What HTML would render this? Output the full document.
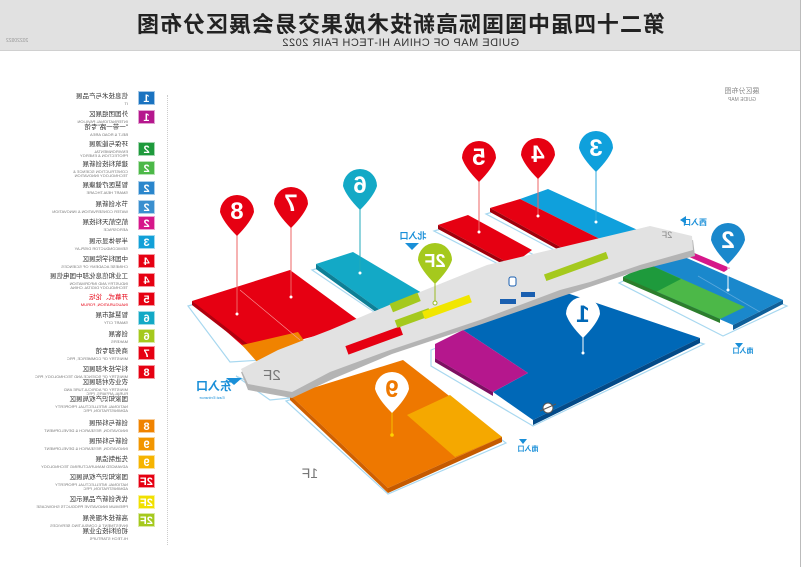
<!DOCTYPE html>
<html><head><meta charset="utf-8"><style>
*{margin:0;padding:0;box-sizing:border-box}
body{width:801px;height:567px;background:#fff;position:relative;overflow:hidden;font-family:"Liberation Sans","Noto Sans CJK SC",sans-serif}
.m{transform:scaleX(-1)}
#hdr{position:absolute;left:0;top:0;width:801px;height:51px;background:#e1e1e1;border-bottom:1px solid #d0d0d0}
#t1{position:absolute;left:0;width:801px;top:7px;text-align:center;font-size:22px;font-weight:bold;color:#222;letter-spacing:1px}
#t2{position:absolute;left:0;width:801px;top:37px;text-align:center;font-size:11px;color:#333;letter-spacing:.5px}
.lg{position:absolute;left:0;width:128px;text-align:left;line-height:1}
.lg b{display:block;font-size:6.5px;color:#333;font-weight:normal}
.lg i{display:block;font-style:normal;font-size:4px;color:#777;margin-top:1px}
.bd{position:absolute;left:138px;width:17px;height:14px;color:#fff;font-weight:bold;font-size:11px;text-align:center;line-height:14px;border:1px solid rgba(255,255,255,.6)}
</style></head><body>
<div id="hdr"><div id="t1" class="m">第二十四届中国国际高新技术成果交易会展区分布图</div><div id="t2" class="m">GUIDE MAP OF CHINA HI-TECH FAIR 2022</div>
<div class="m" style="position:absolute;left:6px;top:38px;font-size:5px;color:#999">20220922</div></div>
<div style="position:absolute;left:800px;top:0;width:1px;height:567px;background:#bbb"></div>
<div style="position:absolute;left:167px;top:95px;height:450px;border-left:1px dotted #ccc"></div>

<div class="lg m" style="top:94px"><b>信息技术与产品展</b><i>IT</i></div><div class="bd m" style="top:91px;background:#1a73c0">1</div>
<div class="lg m" style="top:112px"><b>外国团组展区</b><i>INTERNATIONAL PAVILION</i></div><div class="bd m" style="top:110px;background:#b5178d">1</div>
<div class="lg m" style="top:125px"><b>"一带一路"专馆</b><i>BELT &amp; ROAD AREA</i></div>
<div class="lg m" style="top:142px"><b>环保与能源展</b><i>ENVIRONMENTAL<br>PROTECTION &amp; ENERGY</i></div><div class="bd m" style="top:142px;background:#1e9a3c">2</div>
<div class="lg m" style="top:162px"><b>建筑科技创新展</b><i>CONSTRUCTION SCIENCE &amp;<br>TECHNOLOGY INNOVATION</i></div><div class="bd m" style="top:161px;background:#4cb848">2</div>
<div class="lg m" style="top:183px"><b>智慧医疗健康展</b><i>SMART HEALTHCARE</i></div><div class="bd m" style="top:181px;background:#2a86cc">2</div>
<div class="lg m" style="top:202px"><b>节水创新展</b><i>WATER CONSERVATION &amp; INNOVATION</i></div><div class="bd m" style="top:200px;background:#3a8fcf">2</div>
<div class="lg m" style="top:220px"><b>航空航天科技展</b><i>AEROSPACE</i></div><div class="bd m" style="top:216px;background:#d6178a">2</div>
<div class="lg m" style="top:239px"><b>半导体显示展</b><i>SEMICONDUCTOR DISPLAY</i></div><div class="bd m" style="top:235px;background:#12a0d8">3</div>
<div class="lg m" style="top:257px"><b>中国科学院展区</b><i>CHINESE ACADEMY OF SCIENCES</i></div><div class="bd m" style="top:254px;background:#e60012">4</div>
<div class="lg m" style="top:274px"><b>工业和信息化部中国电信展</b><i>INDUSTRY AND INFORMATION<br>TECHNOLOGY DIGITAL CHINA</i></div><div class="bd m" style="top:273px;background:#e60012">4</div>
<div class="lg m" style="top:295px"><b style="color:#e60012">开幕式、论坛</b><i style="color:#e60012">INAUGURATION, FORUM</i></div><div class="bd m" style="top:292px;background:#e60012">5</div>
<div class="lg m" style="top:313px"><b>智慧城市展</b><i>SMART CITY</i></div><div class="bd m" style="top:311px;background:#13a9c6">6</div>
<div class="lg m" style="top:332px"><b>创客展</b><i>MAKERS</i></div><div class="bd m" style="top:329px;background:#a5c91d">6</div>
<div class="lg m" style="top:349px"><b>商务部专馆</b><i>MINISTRY OF COMMERCE, PRC</i></div><div class="bd m" style="top:346px;background:#e60012">7</div>
<div class="lg m" style="top:367px"><b>科学技术部展区</b><i>MINISTRY OF SCIENCE AND TECHNOLOGY, PRC</i></div><div class="bd m" style="top:365px;background:#e60012">8</div>
<div class="lg m" style="top:380px"><b>农业农村部展区</b><i>MINISTRY OF AGRICULTURE AND<br>RURAL AFFAIRS, PRC</i></div>
<div class="lg m" style="top:397px"><b>国家知识产权局展区</b><i>NATIONAL INTELLECTUAL PROPERTY<br>ADMINISTRATION, PRC</i></div>
<div class="lg m" style="top:421px"><b>创新与科研展</b><i>INNOVATION, RESEARCH &amp; DEVELOPMENT</i></div><div class="bd m" style="top:419px;background:#f08300">8</div>
<div class="lg m" style="top:439px"><b>创新与科研展</b><i>INNOVATION, RESEARCH &amp; DEVELOPMENT</i></div><div class="bd m" style="top:437px;background:#f29600">9</div>
<div class="lg m" style="top:457px"><b>先进制造展</b><i>ADVANCED MANUFACTURING TECHNOLOGY</i></div><div class="bd m" style="top:455px;background:#f6b400">9</div>
<div class="lg m" style="top:475px"><b>国家知识产权局展区</b><i>NATIONAL INTELLECTUAL PROPERTY<br>ADMINISTRATION, PRC</i></div><div class="bd m" style="top:474px;background:#e60012">2F</div>
<div class="lg m" style="top:497px"><b>优秀创新产品展示区</b><i>PREMIUM INNOVATIVE PRODUCTS SHOWCASE</i></div><div class="bd m" style="top:495px;background:#f1e000">2F</div>
<div class="lg m" style="top:516px"><b>高新技术服务展</b><i>INVESTMENT &amp; CONSULTING SERVICES</i></div><div class="bd m" style="top:513px;background:#a5c91d">2F</div>
<div class="lg m" style="top:529px"><b>初创科技企业展</b><i>HI-TECH STARTUPS</i></div>

<svg style="position:absolute;left:0;top:0" width="801" height="567" font-family="Liberation Sans, Noto Sans CJK SC, sans-serif">
<g fill="none" stroke="#a8d8f0" stroke-width="1.2">
<polygon points="188,306 290,276 360,326 262,360 230,362"/>
<polygon points="312,270 353,258 426,299 380,316"/>
<polygon points="434,231 468,221 536,256 512,271"/>
<polygon points="486,214 548,195 646,238 575,261"/>
<polygon points="619,283 673,258 787,306 723,336"/>
<polygon points="431,350 567,299 704,344 533,426 431,366"/>
<polygon points="286,401 403,366 506,443 388,494"/>
<polygon points="236,376 270,400 290,398 250,382"/>
</g>
<polygon points="192,301 290,270 358,320 330,332 300,340 262,355 245,348" fill="#e60012"/>
<polygon points="192,301 262,355 262,359 192,305" fill="#b0000e"/>
<polygon points="242,345 298,332 312,352 258,363" fill="#f08300"/>
<line x1="240" y1="290" x2="300" y2="340" stroke="#f9a0a0" stroke-width=".6"/>
<polygon points="316,264 353,252 422,293 380,310" fill="#13a9c6"/>
<polygon points="316,264 380,310 380,315 316,269" fill="#0d7f96"/>
<polygon points="438,225 468,215 532,250 512,265" fill="#e60012"/>
<polygon points="438,225 512,265 512,269 438,229" fill="#a0000c"/>
<polygon points="548,189 642,232 608,243 520,199" fill="#0fa0dc"/>
<polygon points="490,208 520,199 608,243 575,255" fill="#e60012"/>
<polygon points="490,208 575,255 575,259 490,212" fill="#a0000c"/>
<polygon points="623,277 673,252 783,300 733,325" fill="#1a88cc"/>
<polygon points="733,325 783,300 783,304 733,330" fill="#0f5f99"/>
<polygon points="623,277 648,264 745,307 720,319" fill="#4cb848"/>
<polygon points="623,277 648,264 681,279 656,292" fill="#1e9a3c"/>
<polygon points="623,277 720,319 720,323 623,281" fill="#2c7e2c"/>
<polygon points="673,250 680,247 730,268 724,272" fill="#d6178a"/>
<line x1="698" y1="276" x2="760" y2="312" stroke="#5aa8dc" stroke-width=".8"/>
<polygon points="463,330 567,293 700,338 533,420 493,392 528,373" fill="#0068b7"/>
<polygon points="533,420 700,338 700,343 533,425" fill="#034a88"/>
<polygon points="435,344 463,330 528,373 493,392 435,358" fill="#b5178d"/>
<polygon points="435,358 493,392 493,396 435,362" fill="#7d0f62"/>
<polygon points="290,395 403,360 502,437 388,488" fill="#ee7800"/>
<polygon points="407,415 450,395 502,437 455,457" fill="#f5a800"/>
<polygon points="388,488 502,437 502,442 388,493" fill="#c55a00"/>
<polygon points="290,395 388,488 388,493 290,400" fill="#d06000"/>
<polygon points="241,372 248,390 292,398 335,378 392,354 482,324 560,297 640,270 695,256 693,240" fill="#b4b4b4"/>
<polygon points="241,369 278,350 330,330 420,292 487,265 600,238 650,226 692,236 693,250 640,265 590,282 560,290 480,320 390,350 330,372 292,392 248,384" fill="#e2e2e2"/>
<text transform="translate(272,380) scale(-1,1)" font-size="15" fill="#777" text-anchor="middle">2F</text>
<text transform="translate(667,238) scale(-1,1)" font-size="9" fill="#888" text-anchor="middle">2F</text>
<rect x="345" y="336" width="58" height="9" fill="#e60012" transform="rotate(-20 374 340)"/>
<rect x="395" y="314" width="36" height="8" fill="#a5c91d" transform="rotate(-20 413 318)"/>
<rect x="422" y="303" width="50" height="8" fill="#f1e600" transform="rotate(-20 447 307)"/>
<rect x="390" y="298" width="30" height="9" fill="#a5c91d" transform="rotate(-22 405 302)"/>
<rect x="543" y="263" width="66" height="7" fill="#a5c91d" transform="rotate(-20 576 266)"/>
<rect x="500" y="299" width="16" height="5" fill="#1a5fb0"/><rect x="521" y="292" width="14" height="5" fill="#1a5fb0"/>
<rect x="509" y="277" width="7" height="9" rx="2" fill="#fff" stroke="#1a5fb0"/>
<g stroke-width="1">
<line x1="237" y1="228" x2="237" y2="314" stroke="#e66"/><line x1="291" y1="220" x2="291" y2="297" stroke="#e66"/>
<line x1="360" y1="200" x2="360" y2="273" stroke="#2ab"/><line x1="435" y1="274" x2="435" y2="303" stroke="#9b2"/>
<line x1="479" y1="172" x2="479" y2="232" stroke="#e66"/><line x1="538" y1="172" x2="538" y2="216" stroke="#e66"/>
<line x1="596" y1="165" x2="596" y2="222" stroke="#3ad"/><line x1="728" y1="255" x2="728" y2="290" stroke="#fff"/>
<line x1="583" y1="330" x2="583" y2="353" stroke="#fff"/><line x1="392" y1="405" x2="392" y2="435" stroke="#f5c000"/>
</g>
<g fill="#fff"><circle cx="237" cy="314" r="1.5"/><circle cx="291" cy="297" r="1.5"/><circle cx="360" cy="273" r="1.5"/><circle cx="479" cy="232" r="1.5"/><circle cx="538" cy="216" r="1.5"/><circle cx="596" cy="222" r="1.5"/><circle cx="728" cy="290" r="1.5"/><circle cx="583" cy="353" r="1.5"/><circle cx="392" cy="435" r="1.8" fill="#ffd200"/><circle cx="435" cy="303" r="2" fill="#fff" stroke="#9b2"/></g>
<g font-weight="bold" font-size="24" text-anchor="middle" fill="#fff">
<path d="M220,212 A17,17 0 1 1 254,212 Q251,222 237,236 Q223,222 220,212Z" fill="#e60012"/><text transform="translate(237,219) scale(-1,1)">8</text>
<path d="M274,204 A17,17 0 1 1 308,204 Q305,214 291,228 Q277,214 274,204Z" fill="#e60012"/><text transform="translate(291,211) scale(-1,1)">7</text>
<path d="M343,186 A17,17 0 1 1 377,186 Q374,196 360,210 Q346,196 343,186Z" fill="#13a9c6"/><text transform="translate(360,193) scale(-1,1)">6</text>
<path d="M418,260 A17,17 0 1 1 452,260 Q449,270 435,284 Q421,270 418,260Z" fill="#a5c91d"/><text transform="translate(435,267) scale(-1,1)" font-size="18">2F</text>
<path d="M462,158 A17,17 0 1 1 496,158 Q493,168 479,182 Q465,168 462,158Z" fill="#e60012"/><text transform="translate(479,165) scale(-1,1)">5</text>
<path d="M521,155 A17,17 0 1 1 555,155 Q552,165 538,179 Q524,165 521,155Z" fill="#e60012"/><text transform="translate(538,162) scale(-1,1)">4</text>
<path d="M579,148 A17,17 0 1 1 613,148 Q610,158 596,172 Q582,158 579,148Z" fill="#0fa0dc"/><text transform="translate(596,156) scale(-1,1)">3</text>
<path d="M711,240 A17,17 0 1 1 745,240 Q742,250 728,264 Q714,250 711,240Z" fill="#1a88cc"/><text transform="translate(728,248) scale(-1,1)">2</text>
<path d="M566,314 A17,17 0 1 1 600,314 Q597,324 583,338 Q569,324 566,314Z" fill="#fff"/><text transform="translate(583,322) scale(-1,1)" fill="#0068b7">1</text>
<path d="M375,389 A17,17 0 1 1 409,389 Q406,399 392,413 Q378,399 375,389Z" fill="#fff"/><text transform="translate(392,397) scale(-1,1)" fill="#ee7800">9</text>
</g>
<g fill="#1a8fd8">
<text transform="translate(413,239) scale(-1,1)" font-size="9" font-weight="bold" text-anchor="middle">北入口</text><polygon points="405,243 419,243 412,250"/>
<text transform="translate(695,225) scale(-1,1)" font-size="8" font-weight="bold" text-anchor="middle">西入口</text><polygon points="680,220 686,216 686,224"/>
<text transform="translate(214,390) scale(-1,1)" font-size="12" font-weight="bold" text-anchor="middle">东入口</text><polygon points="226,378 242,378 234,385"/>
<text transform="translate(212,399) scale(-1,1)" font-size="4" text-anchor="middle">East Entrance</text>
<text transform="translate(528,451) scale(-1,1)" font-size="7" font-weight="bold" text-anchor="middle">南入口</text><polygon points="519,439 527,439 523,444"/>
<text transform="translate(743,353) scale(-1,1)" font-size="7" font-weight="bold" text-anchor="middle">南入口</text><polygon points="735,343 743,343 739,348"/>
</g>
<text transform="translate(310,478) scale(-1,1)" font-size="14" fill="#777" text-anchor="middle">1F</text>
<circle cx="548" cy="408" r="5" fill="#fff" stroke="#555"/><path d="M540,411 L556,404" stroke="#555"/>
<text transform="translate(742,93) scale(-1,1)" font-size="7" fill="#888" text-anchor="middle">展区分布图</text>
<text transform="translate(742,101) scale(-1,1)" font-size="5" fill="#888" text-anchor="middle">GUIDE MAP</text>
</svg>
</body></html>
